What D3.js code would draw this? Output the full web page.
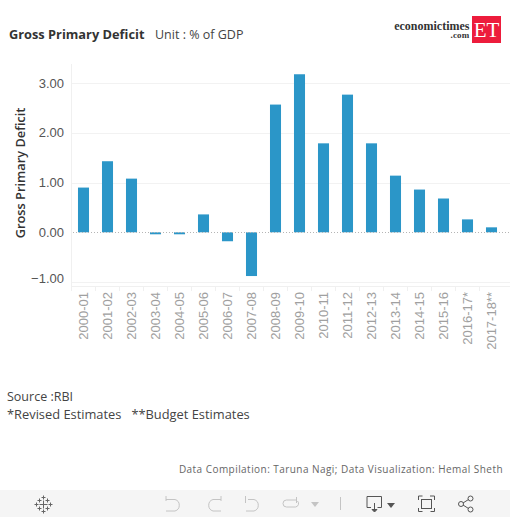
<!DOCTYPE html>
<html><head><meta charset="utf-8">
<script src="https://cdn.jsdelivr.net/npm/d3@7/dist/d3.min.js"></script>
<style>html,body{margin:0;padding:0;background:#fff;overflow:hidden}svg{display:block}
text{font-family:"Open Sans",sans-serif}</style></head><body>
<svg id="c" width="510" height="517"></svg>
<script>
const categories=["2000-01","2001-02","2002-03","2003-04","2004-05","2005-06","2006-07","2007-08","2008-09","2009-10","2010-11","2011-12","2012-13","2013-14","2014-15","2015-16","2016-17*","2017-18**"];
const values=[0.90,1.43,1.08,-0.04,-0.04,0.36,-0.18,-0.88,2.57,3.18,1.79,2.77,1.79,1.14,0.86,0.68,0.26,0.10];
const yTicks=[-1,0,1,2,3];
const svg=d3.select("#c");
const y=d3.scaleLinear().domain([-1,3]).range([282,83.2]);
const x=d3.scaleBand().domain(categories).range([71.5,503.5]).paddingInner(0.54).paddingOuter(0.27);
const bottom=286.5;
svg.append("g").selectAll("line").data(yTicks.filter(d=>d!==0)).join("line")
 .attr("x1",71.5).attr("x2",510).attr("y1",d=>Math.round(y(d))+.5).attr("y2",d=>Math.round(y(d))+.5)
 .attr("stroke","#f2f2f2").attr("stroke-width",1);
svg.append("line").attr("x1",71.5).attr("x2",71.5).attr("y1",64).attr("y2",290).attr("stroke","#f0f0f0");
svg.append("line").attr("x1",71.5).attr("x2",510).attr("y1",bottom).attr("y2",bottom).attr("stroke","#f0f0f0");
svg.append("g").selectAll("line").data(categories).join("line")
 .attr("x1",d=>x(d)-x.step()*0.27).attr("x2",d=>x(d)-x.step()*0.27).attr("y1",bottom).attr("y2",291).attr("stroke","#f0f0f0");
svg.append("g").selectAll("rect").data(categories).join("rect")
 .attr("x",d=>x(d)).attr("width",x.bandwidth())
 .attr("y",(d,i)=>y(Math.max(0,values[i]))).attr("height",(d,i)=>Math.abs(y(values[i])-y(0)))
 .attr("fill","#2b96c8");
svg.append("line").attr("x1",73).attr("x2",510).attr("y1",Math.round(y(0))+.5).attr("y2",Math.round(y(0))+.5)
 .attr("stroke","#b5b5b5").attr("stroke-dasharray","1 2");
const ya=svg.append("g").attr("transform","translate(64,0)").call(d3.axisLeft(y).tickValues(yTicks).tickFormat(d3.format(".2f")).tickSize(0).tickPadding(0));
ya.select(".domain").remove();
ya.selectAll("text").style("font-family","'Liberation Sans',sans-serif").attr("font-size",13).attr("fill","#555")
 .attr("dy",d=>d===-1?"0em":"0.3em");
const xa=svg.append("g").attr("transform",`translate(0,${bottom})`).call(d3.axisBottom(x).tickSize(0).tickPadding(0));
xa.select(".domain").remove();
xa.selectAll("text").style("font-family","'Liberation Sans',sans-serif").attr("font-size",13).attr("fill","#a0a0a0")
 .attr("text-anchor","end").attr("transform","translate(0,5.500) rotate(-90)").attr("x",0).attr("y",0).attr("dy","0.37em");
svg.append("text").attr("transform","translate(21,173) rotate(-90)").attr("text-anchor","middle").attr("font-size",12.800).attr("font-weight",600).attr("fill","#333").attr("dy","0.35em").text("Gross Primary Deficit");
svg.append("text").attr("x",9).attr("y",39).attr("font-size",12.800).attr("font-weight",700).attr("fill","#333").text("Gross Primary Deficit");
svg.append("text").attr("x",155).attr("y",39).attr("font-size",12.500).attr("fill","#444").text("Unit : % of GDP");
svg.append("rect").attr("x",472).attr("y",16).attr("width",29).attr("height",27).attr("fill","#ed1c3c");
svg.append("text").attr("x",486.500).attr("y",37).attr("text-anchor","middle").style("font-family","'Liberation Serif',serif").attr("font-size",21).attr("fill","#fff").text("ET");
svg.append("text").attr("x",469.500).attr("y",30).attr("text-anchor","end").style("font-family","'Liberation Serif',serif").attr("font-weight",700).attr("font-size",12).attr("fill","#333").text("economictimes");
svg.append("text").attr("x",469.500).attr("y",37.500).attr("text-anchor","end").style("font-family","'Liberation Serif',serif").attr("font-weight",700).attr("font-size",9).attr("letter-spacing",0.2).attr("fill","#333").text(".com");
svg.append("text").attr("x",7).attr("y",401).attr("font-size",12.500).attr("fill","#444").text("Source :RBI");
svg.append("text").attr("x",7).attr("y",419).attr("font-size",12.850).attr("fill","#444").text("*Revised Estimates\u00a0\u00a0\u00a0**Budget Estimates");
svg.append("text").attr("x",503).attr("y",473).attr("text-anchor","end").attr("font-size",10).attr("letter-spacing",0.45).attr("fill","#666").text("Data Compilation: Taruna Nagi; Data Visualization: Hemal Sheth");
svg.append("rect").attr("x",0).attr("y",490).attr("width",510).attr("height",27).attr("fill","#f5f5f5");
const ic=svg.append("g").attr("fill","none").attr("stroke","#c4c4c4").attr("stroke-width",1);
const tb=svg.append("g").attr("stroke","#666").attr("stroke-width",1);
[[43.500,497.500,2],[43.500,504.500,4],[43.500,511.500,2],[36.500,504.500,2],[50.500,504.500,2],[39.500,500.500,2],[47.500,500.500,2],[39.500,508.500,2],[47.500,508.500,2]].forEach(([a,b,r])=>{
 tb.append("path").attr("d",`M${a-r} ${b}H${a+r}M${a} ${b-r}V${b+r}`);});
ic.append("path").attr("d","M166 496v5M166 499.500h9a6 6 0 0 1 0 11.500h-9");
ic.append("path").attr("d","M221 496v5M221 499.500h-8a6 6 0 0 0 0 11.500h8");
ic.append("path").attr("d","M245.500 496v7M248 499.500h6a6 6 0 0 1 0 11.500h-8");
ic.append("path").attr("d","M296.500 497v6M296.500 500h-10a3.500 3.500 0 0 0 0 7h9a3.500 3.500 0 0 0 2-6");
svg.append("path").attr("d","M311 502h8l-4 5z").attr("fill","#c4c4c4");
ic.append("path").attr("d","M340.500 497v13");
const d=svg.append("g").attr("fill","none").attr("stroke","#555");
d.append("path").attr("d","M371 507.500h-4v-11h14.500v11h-4M374.500 503v8");
d.append("path").attr("d","M372 509.500l2.500 2.500 2.500-2.500z").attr("fill","#555");
svg.append("path").attr("d","M387 503h8l-4 5z").attr("fill","#555");
d.append("path").attr("d","M418.500 500v-4h4M430 496h4.500v4M434.500 508v3.500h-4M422.500 511.500h-4v-3.500");
d.append("rect").attr("x",421.500).attr("y",499.500).attr("width",10).attr("height",9);
d.append("circle").attr("cx",470.500).attr("cy",498.500).attr("r",2.500);
d.append("circle").attr("cx",470.500).attr("cy",509.500).attr("r",2.500);
d.append("circle").attr("cx",461).attr("cy",504).attr("r",2.500);
d.append("path").attr("d","M463 503l5.500-3.500M463 505l5.500 3.500");
</script></body></html>
